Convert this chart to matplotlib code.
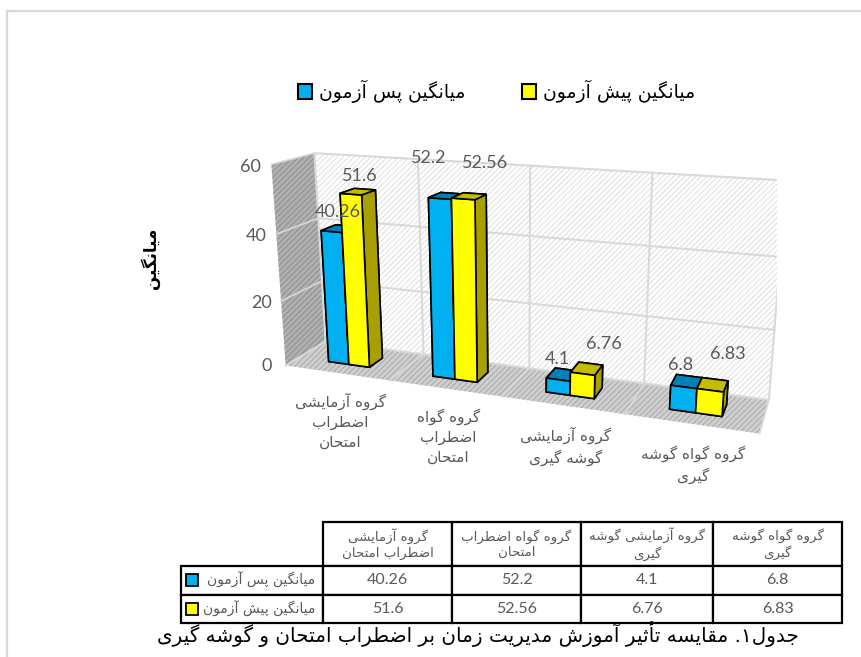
import matplotlib
matplotlib.use('Agg')
import matplotlib.pyplot as plt
from matplotlib.patches import Rectangle
from mpl_toolkits.mplot3d import proj3d
from mpl_toolkits.mplot3d.art3d import Poly3DCollection

# data
z_ticks = [0, 20, 40, 60]
post_test = [40.26, 52.2, 4.1, 6.8]
pre_test = [51.6, 52.56, 6.76, 6.83]
series_names = ['میانگین پس آزمون', 'میانگین پیش آزمون']
y_title = 'میانگین'
cat_labels = [
    ['گروه آزمایشی', 'اضطراب', 'امتحان'],
    ['گروه گواه', 'اضطراب', 'امتحان'],
    ['گروه آزمایشی', 'گوشه گیری'],
    ['گروه گواه گوشه', 'گیری'],
]
table_heads = [
    ['گروه آزمایشی', 'اضطراب امتحان'],
    ['گروه گواه اضطراب', 'امتحان'],
    ['گروه آزمایشی گوشه', 'گیری'],
    ['گروه گواه گوشه', 'گیری'],
]
caption = 'جدول۱. مقایسه تأثیر آموزش مدیریت زمان بر اضطراب امتحان و گوشه گیری'

# nudges for the data labels, the source chart has them dragged around
post_dx = [0.07, -0.09, -0.01, -0.03]
post_dz = [6, 11, 6, 6]
pre_dx = [0.09, 0.19, 0.17, 0.11]
pre_dz = [5.3, 10.2, 9.2, 10.5]

# matplotlib does no arabic shaping, so pick the presentation forms by hand
DUAL = {'ب': 0xFE8F, 'پ': 0xFB56, 'ت': 0xFE95, 'ث': 0xFE99, 'ج': 0xFE9D, 'ح': 0xFEA1,
        'س': 0xFEB1, 'ش': 0xFEB5, 'ض': 0xFEBD, 'ط': 0xFEC1, 'ق': 0xFED5, 'ک': 0xFB8E,
        'گ': 0xFB92, 'ل': 0xFEDD, 'م': 0xFEE1, 'ن': 0xFEE5, 'ه': 0xFEE9, 'ی': 0xFBFC}
RIGHT = {'ا': 0xFE8D, 'آ': 0xFE81, 'أ': 0xFE83, 'د': 0xFEA9, 'ر': 0xFEAD, 'ز': 0xFEAF, 'و': 0xFEED}


def fa(text):
    out = []
    for i, ch in enumerate(text):
        prev_joins = i > 0 and text[i - 1] in DUAL
        next_joins = i < len(text) - 1 and (text[i + 1] in DUAL or text[i + 1] in RIGHT)
        if ch in DUAL:
            out.append(chr(DUAL[ch] + (3 if prev_joins and next_joins else 1 if prev_joins else 2 if next_joins else 0)))
        elif ch in RIGHT:
            out.append(chr(RIGHT[ch] + (1 if prev_joins else 0)))
        else:
            out.append(ch)
    return ''.join(reversed(out))


plt.rcParams['font.family'] = ['DejaVu Sans']
plt.rcParams['hatch.linewidth'] = 0.5
GRAY = '#595959'
W, H = 861, 657
fig = plt.figure(figsize=(W / 100, H / 100), dpi=100, facecolor='white')

# chart frame and caption on a pixel sized overlay
bg = fig.add_axes([0, 0, 1, 1])
bg.set_xlim(0, W)
bg.set_ylim(H, 0)
bg.axis('off')
bg.plot([7, 7, W], [H, 11, 11], color='#d9d9d9', lw=1.6)

# 3d chart
S = 535
cx, cy = 509, 287.5
ax = fig.add_axes([(cx - S / 2) / W, (H - cy - S / 2) / H, S / W, S / H], projection='3d')
ax.patch.set_visible(False)
ax.set_axis_off()
ax.computed_zorder = False
ax.set_proj_type('persp', focal_length=0.33)
ax.view_init(elev=16, azim=-70)
ax.set_box_aspect((474, 78, 207))
n = len(post_test)
ax.set_xlim(0, n)
ax.set_ylim(0, 1)
ax.set_zlim(0, z_ticks[-1])
top = z_ticks[-1]


def label3d(x, y, z, s, **kw):
    # plain 2d text at the projected spot of a data point
    x2, y2, _ = proj3d.proj_transform(x, y, z, ax.get_proj())
    ax.annotate(s, (x2, y2), annotation_clip=False, zorder=9, **kw)


back = Poly3DCollection([[(0, 1, 0), (n, 1, 0), (n, 1, top), (0, 1, top)]], facecolor='white',
                        edgecolor='#d0d0d0', hatch='//////', linewidth=0, zorder=1)
side = Poly3DCollection([[(0, 0, 0), (0, 1, 0), (0, 1, top), (0, 0, top)]], facecolor='#b0b0b0',
                        edgecolor='#808080', hatch='//////', linewidth=0, zorder=1)
floor = Poly3DCollection([[(0, 0, 0), (n, 0, 0), (n, 1, 0), (0, 1, 0)]], facecolor='#cfcfcf',
                         edgecolor='#9a9a9a', hatch='//////', linewidth=0, zorder=1)
for p in (back, side, floor):
    ax.add_collection3d(p)

for z in z_ticks:
    ax.plot([0, n], [1, 1], [z, z], color='#d9d9d9', lw=1.5, zorder=2)
    ax.plot([0, 0], [0, 1], [z, z], color='#d9d9d9', lw=1.2, zorder=2)
    label3d(-0.2, 0, z - 1.2, str(z), fontsize=13, color=GRAY, family='Lato', ha='center', va='center')
for i in range(n + 1):
    ax.plot([i, i], [1, 1], [0, top], color='#d9d9d9', lw=1.5, zorder=2)
    ax.plot([i, i], [0, 1], [0, 0], color='#d9d9d9', lw=1.2, zorder=2)

bw = 0.2
y0, dy = 0.32, 0.36
blue_faces = ['#00b0f0', '#0080b4', '#00b0f0', '#00b0f0', '#00b0f0', '#0088b8']
yellow_faces = ['#ffff00', '#c4bc00', '#ffff00', '#ffff00', '#ffff00', '#a8a000']
for i in range(n):
    ax.bar3d(i + 0.5 - bw, y0, 0, bw, dy, post_test[i], color=blue_faces, shade=False,
             edgecolor='black', linewidth=1.2, zorder=3 + i * 0.1)
    ax.bar3d(i + 0.5, y0, 0, bw, dy, pre_test[i], color=yellow_faces, shade=False,
             edgecolor='black', linewidth=1.2, zorder=3.05 + i * 0.1)
    label3d(i + 0.5 - bw / 2 + post_dx[i], y0, post_test[i] + post_dz[i], str(post_test[i]), fontsize=13,
            color=GRAY, family='Lato', ha='center', va='center')
    label3d(i + 0.5 + bw / 2 + pre_dx[i], y0, pre_test[i] + pre_dz[i], str(pre_test[i]), fontsize=13,
            color=GRAY, family='Lato', ha='center', va='center')
    label3d(i + 0.53, 0, -6, '\n'.join(fa(s) for s in cat_labels[i]), fontsize=11, color=GRAY,
            ha='center', va='top', linespacing=1.4)

# legend, y title and caption
bg.set_zorder(5)
for x, name, col in [(319, series_names[0], '#00b0f0'), (543, series_names[1], '#ffff00')]:
    bg.add_patch(Rectangle((x - 21, 84), 14, 15, facecolor=col, edgecolor='black', lw=1.5))
    bg.text(x, 91, fa(name), fontsize=13.5, color='black', ha='left', va='center')
bg.text(150, 258, fa(y_title), fontsize=12, color='black', rotation=90, ha='center', va='center', fontweight='bold')
bg.text(478, 634, fa(caption), fontsize=14.4, color='black', ha='center', va='center')

# table, the bbox only covers the grid so the row labels hang off to the left
tl, tr, tt, tb = 323, 842, 522, 623
tax = fig.add_axes([tl / W, (H - tb) / H, (tr - tl) / W, (tb - tt) / H])
tax.axis('off')
tax.set_zorder(4)
cells = [[str(v) for v in post_test], [str(v) for v in pre_test]]
col_w = [129, 129, 132, 129]
tbl = tax.table(cellText=cells, colLabels=['\n'.join(fa(s) for s in h) for h in table_heads],
                rowLabels=[fa(s) for s in series_names], colWidths=[c / (tr - tl) for c in col_w],
                rowLoc='right', cellLoc='center', bbox=[0, 0, 1, 1])
tbl.auto_set_font_size(False)
tbl._autoColumns = []  # table() would otherwise shrink the row label column to its text
for (r, c), cell in tbl.get_celld().items():
    cell.set_edgecolor('black')
    cell.set_linewidth(1.6)
    cell.set_height(44 / 101 if r == 0 else 28.5 / 101)
    if c == -1:
        cell.set_width(142 / (tr - tl))
        cell.PAD = 0.056
    txt = cell.get_text()
    txt.set_color(GRAY)
    txt.set_fontsize(10 if c == -1 else 9.6 if r == 0 else 11.5)
    if r > 0 and c >= 0:
        txt.set_family('Lato')
for r, col in [(0, '#00b0f0'), (1, '#ffff00')]:
    y = (tb - tt - 44 - 28.5 * r - 14) / (tb - tt)
    tax.add_patch(Rectangle((-137 / (tr - tl), y - 0.06), 12 / (tr - tl), 12 / (tb - tt), facecolor=col,
                            edgecolor='black', lw=1.3, transform=tax.transAxes, zorder=10, clip_on=False))

fig.savefig('out.png', dpi=100)
